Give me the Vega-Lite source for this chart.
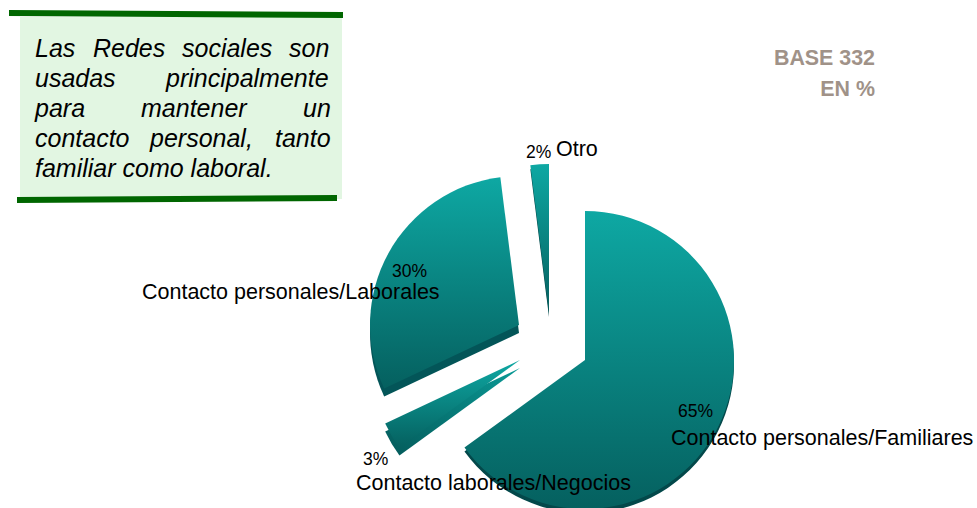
{
"$schema":"https://vega.github.io/schema/vega-lite/v6.json",
"width":977,"height":508,"padding":0,"autosize":{"type":"none"},
"background":"white",
"config":{"view":{"stroke":null},"text":{"font":"Liberation Sans"}},
"datasets":{
"porciones":[
{"categoria":"Contacto personales/Familiares","porcentaje":65,"orden":1,"cx":585,"cy":360},
{"categoria":"Contacto laborales/Negocios","porcentaje":3,"orden":2,"cx":520,"cy":360},
{"categoria":"Contacto personales/Laborales","porcentaje":30,"orden":3,"cx":519,"cy":325},
{"categoria":"Otro","porcentaje":2,"orden":4,"cx":549,"cy":313}
],
"recuadro":[{"x":20,"x2":342,"y":17,"y2":199}],
"filetes":[{"x":9,"y":13,"x2":343,"y2":15},{"x":17,"y":200,"x2":337,"y2":198}],
"palabras":[
{"t":"Las","x":35,"y":57},{"t":"Redes","x":93,"y":57},{"t":"sociales","x":182,"y":57},{"t":"son","x":289,"y":57},
{"t":"usadas","x":35,"y":87},{"t":"principalmente","x":166,"y":87},
{"t":"para","x":35,"y":117},{"t":"mantener","x":141,"y":117},{"t":"un","x":303,"y":117},
{"t":"contacto","x":35,"y":147},{"t":"personal,","x":150,"y":147},{"t":"tanto","x":275,"y":147},
{"t":"familiar como laboral.","x":35,"y":177}
],
"base":[{"t":"BASE 332","x":875,"y":65},{"t":"EN %","x":875,"y":96}],
"etiquetas":[
{"t":"Contacto personales/Familiares","x":671,"y":445},
{"t":"Contacto laborales/Negocios","x":356,"y":490},
{"t":"Contacto personales/Laborales","x":142,"y":299},
{"t":"Otro","x":556,"y":156}
],
"porcentajes":[
{"t":"65%","x":678,"y":417},
{"t":"3%","x":363,"y":465},
{"t":"30%","x":392,"y":277},
{"t":"2%","x":526,"y":158}
]
},
"layer":[
{"data":{"name":"recuadro"},"mark":{"type":"rect","fill":"#e2f6e2"},
 "encoding":{"x":{"field":"x","type":"quantitative","scale":{"domain":[0,977],"range":[0,977],"nice":false,"zero":false},"axis":null},"x2":{"field":"x2"},
 "y":{"field":"y","type":"quantitative","scale":{"domain":[0,508],"range":[0,508],"nice":false,"zero":false},"axis":null},"y2":{"field":"y2"}}},
{"data":{"name":"filetes"},"mark":{"type":"rule","stroke":"#006600","strokeWidth":6},
 "encoding":{"x":{"field":"x","type":"quantitative","axis":null},"x2":{"field":"x2"},"y":{"field":"y","type":"quantitative","axis":null},"y2":{"field":"y2"}}},
{"data":{"name":"porciones"},
 "transform":[{"stack":"porcentaje","sort":[{"field":"orden"}],"as":["a0","a1"]},{"filter":"datum.orden==1||datum.orden==4"}],
 "mark":{"type":"arc","outerRadius":149,"yOffset":4,"fill":"#03484a"},
 "encoding":{"theta":{"field":"a0","type":"quantitative","scale":{"domain":[0,100]}},"theta2":{"field":"a1"},
 "x":{"field":"cx","type":"quantitative","axis":null},"y":{"field":"cy","type":"quantitative","axis":null}}},
{"data":{"name":"porciones"},
 "transform":[{"stack":"porcentaje","sort":[{"field":"orden"}],"as":["a0","a1"]},{"filter":"datum.orden==3"}],
 "mark":{"type":"arc","outerRadius":149,"yOffset":8,"fill":"#035558"},
 "encoding":{"theta":{"field":"a0","type":"quantitative","scale":{"domain":[0,100]}},"theta2":{"field":"a1"},
 "x":{"field":"cx","type":"quantitative","axis":null},"y":{"field":"cy","type":"quantitative","axis":null}}},
{"data":{"name":"porciones"},
 "transform":[{"stack":"porcentaje","sort":[{"field":"orden"}],"as":["a0","a1"]},{"filter":"datum.orden==2"}],
 "mark":{"type":"arc","outerRadius":149,"yOffset":8,"fill":{"gradient":"linear","x1":1,"y1":0,"x2":0,"y2":1,"stops":[{"offset":0,"color":"#0a9a96"},{"offset":1,"color":"#045a5a"}]}},
 "encoding":{"theta":{"field":"a0","type":"quantitative","scale":{"domain":[0,100]}},"theta2":{"field":"a1"},
 "x":{"field":"cx","type":"quantitative","axis":null},"y":{"field":"cy","type":"quantitative","axis":null}}},
{"data":{"name":"porciones"},
 "transform":[{"stack":"porcentaje","sort":[{"field":"orden"}],"as":["a0","a1"]}],
 "mark":{"type":"arc","outerRadius":149,"fill":{"gradient":"linear","x1":0,"y1":0,"x2":0,"y2":1,"stops":[{"offset":0,"color":"#0ea8a3"},{"offset":1,"color":"#05605f"}]}},
 "encoding":{"theta":{"field":"a0","type":"quantitative","scale":{"domain":[0,100]}},"theta2":{"field":"a1"},
 "x":{"field":"cx","type":"quantitative","axis":null},"y":{"field":"cy","type":"quantitative","axis":null}}},
{"data":{"name":"palabras"},"mark":{"type":"text","align":"left","baseline":"alphabetic","fontSize":25,"fontStyle":"italic","font":"Liberation Sans","color":"#000000"},
 "encoding":{"text":{"field":"t"},"x":{"field":"x","type":"quantitative","axis":null},"y":{"field":"y","type":"quantitative","axis":null}}},
{"data":{"name":"base"},"mark":{"type":"text","align":"right","baseline":"alphabetic","fontSize":21.4,"fontWeight":"bold","font":"Liberation Sans","color":"#a09288"},
 "encoding":{"text":{"field":"t"},"x":{"field":"x","type":"quantitative","axis":null},"y":{"field":"y","type":"quantitative","axis":null}}},
{"data":{"name":"etiquetas"},"mark":{"type":"text","align":"left","baseline":"alphabetic","fontSize":21.5,"font":"Liberation Sans","color":"#000000"},
 "encoding":{"text":{"field":"t"},"x":{"field":"x","type":"quantitative","axis":null},"y":{"field":"y","type":"quantitative","axis":null}}},
{"data":{"name":"porcentajes"},"mark":{"type":"text","align":"left","baseline":"alphabetic","fontSize":17.5,"font":"Liberation Sans","color":"#000000"},
 "encoding":{"text":{"field":"t"},"x":{"field":"x","type":"quantitative","axis":null},"y":{"field":"y","type":"quantitative","axis":null}}}
]
}
